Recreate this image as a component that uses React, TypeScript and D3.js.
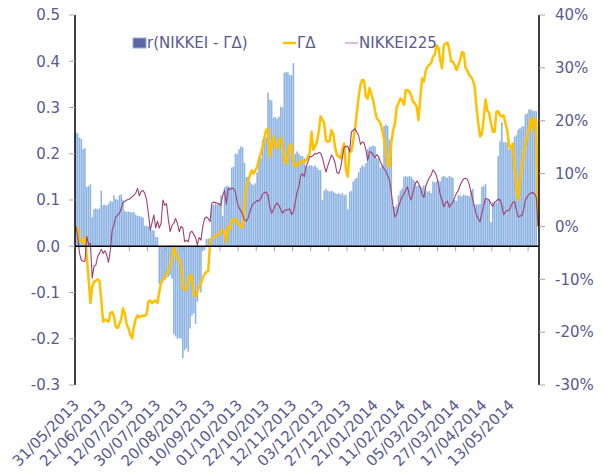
import React from 'react';
import * as d3 from 'd3';

// r(NIKKEI - ΓΔ), left axis
const barValues = [
  0.246, 0.244, 0.235, 0.232, 0.21, 0.212, 0.128, 0.13, 0.134, 0.063,
  0.08, 0.082, 0.08, 0.082, 0.12, 0.089, 0.09, 0.088, 0.092, 0.098,
  0.096, 0.11, 0.102, 0.1, 0.11, 0.112, 0.1, 0.076, 0.074, 0.075,
  0.074, 0.073, 0.074, 0.068, 0.066, 0.065, 0.064, 0.062, 0.044, 0.044,
  0.043, 0.037, 0.035, 0.034, 0.02, 0.02, -0.082, -0.082, -0.075, -0.07,
  -0.068, -0.066, -0.062, -0.07, -0.19, -0.195, -0.2, -0.198, -0.2, -0.242,
  -0.225, -0.22, -0.228, -0.178, -0.15, -0.145, -0.168, -0.12, -0.083, -0.1,
  -0.01, -0.008, 0.016, 0.016, 0.018, 0.088, 0.09, 0.092, 0.09, 0.094,
  0.11, 0.066, 0.128, 0.13, 0.13, 0.128, 0.17, 0.172, 0.2, 0.2,
  0.21, 0.216, 0.214, 0.18, 0.15, 0.15, 0.14, 0.134, 0.132, 0.136,
  0.16, 0.195, 0.19, 0.23, 0.232, 0.235, 0.332, 0.317, 0.315, 0.278,
  0.28, 0.276, 0.28, 0.302, 0.3, 0.375, 0.377, 0.376, 0.37, 0.37,
  0.396, 0.2, 0.205, 0.2, 0.195, 0.195, 0.19, 0.175, 0.173, 0.175,
  0.175, 0.172, 0.175, 0.17, 0.165, 0.165, 0.1, 0.12, 0.124, 0.12,
  0.118, 0.12, 0.118, 0.115, 0.113, 0.115, 0.112, 0.115, 0.11, 0.112,
  0.08, 0.118, 0.12, 0.14, 0.145, 0.148, 0.16, 0.17, 0.175, 0.172,
  0.18, 0.21, 0.215, 0.216, 0.218, 0.216, 0.19, 0.192, 0.17, 0.175,
  0.26, 0.263, 0.26, 0.23, 0.235, 0.087, 0.085, 0.09, 0.11, 0.12,
  0.125, 0.15, 0.152, 0.15, 0.152, 0.15, 0.145, 0.14, 0.13,
  0.132, 0.13, 0.128, 0.132, 0.12, 0.118, 0.12, 0.115, 0.14, 0.138,
  0.14, 0.142, 0.14, 0.15, 0.152, 0.15, 0.148, 0.152, 0.15, 0.148,
  0.1, 0.098, 0.11, 0.11, 0.108, 0.112, 0.11, 0.11, 0.108, 0.12,
  0.124, 0.091, 0.09, 0.09, 0.092, 0.128, 0.13, 0.135, 0.1, 0.1,
  0.052, 0.095, 0.095, 0.094, 0.195, 0.227, 0.268, 0.225, 0.225, 0.224,
  0.21, 0.21, 0.21, 0.237, 0.24, 0.252, 0.255, 0.259, 0.259, 0.285,
  0.287, 0.296, 0.296, 0.293, 0.293, 0.292, 0
];

// ΓΔ in %, right axis
const gammaDelta = [
  0, -0.5, -2.6, -2.8, -3, -2.1, -5.7, -10, -14.5, -11.4,
  -10.5, -10.3, -10, -10.3, -13.9, -18, -17.6, -17.8, -18, -16.4,
  -16.2, -17, -19, -19.2, -18.5, -17.5, -15.5, -16.5, -18.5, -19.3,
  -20.5, -21.2, -19, -17.5, -16.8, -17.2, -17, -16.9, -16.9, -16.6,
  -14.2, -14, -14.5, -14.2, -14, -14.5, -12.4, -10.7, -10.1, -9.9,
  -8.8, -8.6, -7.5, -6, -3.8, -5, -6, -6.2, -7.5, -11.5,
  -12, -11.8, -10.5, -9.2, -9.3, -13, -13.2, -12.5, -11.4, -10.8,
  -9.7, -9, -8.6, -8.5, -3.2, -2.3, -2, -1.8, -1.5, -1.6,
  -1, -0.6, -1, -3, 0, -0.5, 1.2, 1, 1.5, 0.9,
  0.3, 0, -0.2, 4, 7.6, 8.5, 9.7, 10.6, 10, 10.6,
  11.3, 12.6, 13.8, 15.1, 16.8, 18.2, 18.5, 13.2, 15.5, 17,
  15.1, 14.8, 16, 16.7, 15.5, 12.5, 11.9, 13.5, 15.5, 15.2,
  12, 11.3, 11.8, 11.7, 12.4, 12.2, 12.2, 12.5, 13.2, 13.8,
  17.9, 14.5, 15.2, 16, 18, 20.8, 20.2, 19.5, 16.3, 16,
  16.2, 18.2, 17.5, 15, 13.5, 13.2, 12.9, 14.5, 15.7, 10.7,
  9.4, 14.5, 14.2, 16.2, 18.6, 21.5, 24.5, 26.8, 27.7, 27.6,
  24.5, 24.2, 26.2, 25, 23.9, 22, 20.4, 20.1, 19.5, 18.2,
  16.5, 14.5, 11.6, 11.3, 15.7, 18.2, 19.4, 22.6, 23.3, 24.2,
  23.9, 23, 25.8, 25.8, 25.5, 24.8, 23.6, 23.3, 22.7,
  20.1, 24.2, 28, 27.4, 29.5, 30.2, 30.6, 30.9, 32.1, 32.5,
  34.3, 33.8, 31.5, 29.9, 34.3, 34.6, 34.8, 33.5, 31.2, 31.2,
  30.5, 29.6, 30.5, 31.5, 33, 32.8, 30, 29.5, 28.6, 28.3,
  27.7, 26.4, 22.6, 19.5, 17, 17.5, 20.4, 24, 21.9, 21.5,
  19.5, 17.9, 17.9, 21.7, 21.8, 21, 20.8, 21, 19.5, 18.2,
  15.1, 14.8, 15.7, 11.3, 7.5, 5, 8.5, 10.7, 13.8, 15.5,
  17, 18.5, 20.4, 18.2, 20.4, 20, 0
];

// NIKKEI225 in %, right axis
const nikkei = [
  0, -1.9, -5.1, -6.4, -6.6, -6.6, -1.9, -3.4, -3.2, -9.8,
  -7.5, -7.3, -5.7, -5.1, -4.3, -5.1, -4.6, -5.4, -6.8, -4.5,
  -0.7, 0.3, 1.8, 2.1, 2.5, 3.4, 4.5, 4.7, 5, 5.1,
  5.3, 5.6, 5.9, 6.3, 7.2, 5.8, 6.6, 6.8, 6.3, 5,
  2.5, -0.7, 0.7, 2.2, -0.3, 1, -0.3, 0.6, 5, 4,
  4.3, 1.3, -1, 0.2, 0.6, 1.5, 0.6, -1, 0, -0.3,
  -2.9, -2.6, -2.9, -1.2, -0.9, -1.5, -2.1, -3.5, -2.1, -2.6,
  0, 1.5, 1.8, 1.5, 0.9, 4.4, 4.6, 4.5, 4.4, 4.2,
  4, 5.9, 6.8, 4.2, 7.2, 7, 7.2, 7.2, 6.5, 4.5,
  3.5, 3, 2.2, 1.2, 1, 1.6, 2.8, 3.8, 4.4, 4.6,
  4.9, 4.8, 5.3, 6.1, 6.4, 6.5, 5.8, 3.7, 2.5, 3.2,
  4, 4.4, 4, 3.2, 2.5, 3, 3.1, 3.2, 3.3, 2.2,
  2.8, 4.5, 6.5, 7.5, 9.6, 10, 9.4, 11.3, 12.2, 13.2,
  13.2, 13.5, 13.8, 13.7, 14, 13.9, 13, 11.5, 10.3, 11.5,
  12.5, 13.5, 13, 12, 10.2, 10, 11, 13, 15, 15.1,
  15.2, 14.1, 17.9, 18.2, 18.5, 17.8, 17.2, 15.5, 16, 15.8,
  14.5, 12.5, 14.2, 14, 13.5, 13, 13.6, 13.2, 12.2, 11.5,
  10.9, 10.5, 9.6, 8.8, 6.5, 3.8, 1.8, 2.3, 3.7, 4.8,
  5.6, 6.2, 6.9, 7.5, 5.8, 5, 6.5, 7.8, 8.6,
  8.2, 7.3, 6, 5.5, 7.5, 8.5, 9.2, 9.7, 10.7, 10.3,
  9.5, 8, 6, 5, 3.7, 4.5, 4.8, 3.6, 4.2, 4.6,
  5.5, 6.3, 6.8, 7.8, 8.5, 9, 9.1, 8.9, 8, 6.5,
  5, 3.5, 2.2, 1.4, 0.9, 2.5, 4, 5.3, 5.2, 5,
  4.3, 3.8, 4.6, 4.8, 5.2, 5, 4, 2.2, 2.8, 3,
  3, 3.8, 4.5, 4.7, 3.2, 1.8, 2, 2, 3.2, 5,
  5.6, 6.1, 6.3, 6.4, 6.2, 5.5, 0
];

// one label every 15 trading days
const dateLabels = [
  '31/05/2013', '21/06/2013', '12/07/2013', '30/07/2013', '20/08/2013',
  '10/09/2013', '01/10/2013', '22/10/2013', '12/11/2013', '03/12/2013',
  '27/12/2013', '21/01/2014', '11/02/2014', '05/03/2014', '27/03/2014',
  '17/04/2014', '13/05/2014'
];
const leftTicks = [0.5, 0.4, 0.3, 0.2, 0.1, 0, -0.1, -0.2, -0.3];
const rightTicks = [40, 30, 20, 10, 0, -10, -20, -30];

const labelColor = '#5a5a8f';
const font = 'DejaVu Sans, Verdana, sans-serif';

export default function App() {
  const n = barValues.length;
  const left = 75, right = 539, top = 15, bottom = 385;

  const x = d3.scaleBand<number>().domain(d3.range(n)).range([left, right])
    .paddingInner(0.14).paddingOuter(0.07);
  const xb = d3.scaleLinear().domain([0, n]).range([left, right]);
  const yL = d3.scaleLinear().domain([-0.3, 0.5]).range([bottom, top]);
  const yR = d3.scaleLinear().domain([-30, 40]).range([bottom, top]);
  const cx = (i: number) => xb(i + 0.5);

  const line = d3.line<number>().x((d, i) => cx(i)).y(d => yR(d));
  const y0 = yL(0);

  return (
    <svg width={605} height={475} style={{ position: 'absolute', left: 0, top: 0, background: '#fff' }}
      fontFamily={font}>
      {/* x tick marks */}
      {d3.range(3, 26).map(k => (
        <line key={'xt' + k} x1={xb(k * 10)} x2={xb(k * 10)} y1={y0} y2={y0 + 5} stroke="#a6a6a6" />
      ))}
      {/* bars */}
      {barValues.map((v, i) => (
        <rect key={'b' + i} x={x(i)} width={x.bandwidth()}
          y={v >= 0 ? yL(v) : y0} height={Math.abs(yL(v) - y0)} fill="#8db3e2" />
      ))}
      <path d={line(gammaDelta) || ''} fill="none" stroke="#ffc000" strokeWidth={2.5} strokeLinejoin="round" />
      <path d={line(nikkei) || ''} fill="none" stroke="#9e3f74" strokeWidth={1.1} strokeLinejoin="round" />

      {/* axes */}
      <line x1={left} x2={right} y1={y0} y2={y0} stroke="#000" strokeWidth={1.5} />
      <line x1={left} x2={left} y1={top} y2={bottom} stroke="#000" strokeWidth={1.5} />
      <line x1={right} x2={right} y1={top} y2={bottom} stroke="#000" strokeWidth={1.5} />
      {leftTicks.map(t => (
        <g key={'l' + t}>
          <line x1={left - 6} x2={left} y1={yL(t)} y2={yL(t)} stroke="#a6a6a6" />
          <text x={60} y={yL(t)} dy="0.35em" textAnchor="end" fontSize={15} fill={labelColor}>{t.toFixed(1)}</text>
        </g>
      ))}
      {rightTicks.map(t => (
        <g key={'r' + t}>
          <line x1={right} x2={right + 6} y1={yR(t)} y2={yR(t)} stroke="#a6a6a6" />
          <text x={555} y={yR(t)} dy="0.35em" textAnchor="start" fontSize={15} fill={labelColor}>{t + '%'}</text>
        </g>
      ))}
      {dateLabels.map((d, k) => (
        <text key={'d' + k} transform={`translate(${cx(k * 15) + 4},406) rotate(-45)`}
          textAnchor="end" fontSize={15} fill={labelColor}>{d}</text>
      ))}

      {/* legend */}
      <rect x={133} y={38} width={13} height={10} fill="#5f64a3" stroke="#8db3e2" />
      <text x={147} y={43} dy="0.35em" fontSize={15} fill={labelColor}>r(NIKKEI - ΓΔ)</text>
      <line x1={283} x2={296} y1={43} y2={43} stroke="#ffc000" strokeWidth={2.5} />
      <text x={297} y={43} dy="0.35em" fontSize={15} fill={labelColor}>ΓΔ</text>
      <line x1={345} x2={358} y1={43} y2={43} stroke="#d9a5c5" strokeWidth={1.5} />
      <text x={359} y={43} dy="0.35em" fontSize={15} fill={labelColor}>NIKKEI225</text>
    </svg>
  );
}
